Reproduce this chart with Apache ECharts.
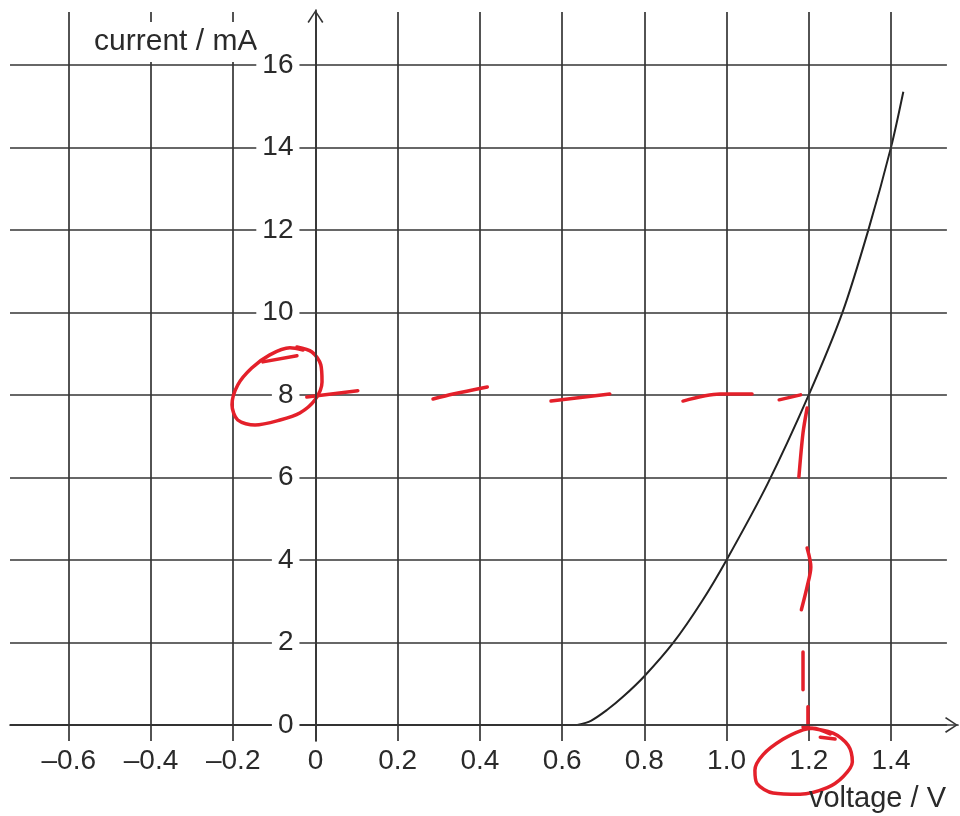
<!DOCTYPE html>
<html><head><meta charset="utf-8">
<script src="https://cdn.jsdelivr.net/npm/echarts@6/dist/echarts.min.js"></script>
<style>html,body{margin:0;padding:0;background:#fff}#c{width:960px;height:816px}</style>
</head><body><div id="c"></div>
<script>
// ---- data ----
const xTicks = [-0.6, -0.4, -0.2, 0, 0.2, 0.4, 0.6, 0.8, 1.0, 1.2, 1.4];
const xLabels = ['–0.6', '–0.4', '–0.2', '0', '0.2', '0.4', '0.6', '0.8', '1.0', '1.2', '1.4'];
const yTicks = [0, 2, 4, 6, 8, 10, 12, 14, 16];
const yLabels = ['0', '2', '4', '6', '8', '10', '12', '14', '16'];
// flat (below threshold) part and rising part of the I-V curve
const flatV = [-0.743, 0.637];
const flatI = [0, 0];
const riseV = [0.637, 0.67, 0.709, 0.748, 0.8, 0.871, 0.939, 1.0, 1.1, 1.2, 1.282, 1.345, 1.4, 1.43];
const riseI = [0, 0.1, 0.36, 0.68, 1.18, 2.0, 2.98, 4.0, 5.85, 8.0, 10.0, 12.0, 14.0, 15.35];
// hand-drawn red annotation strokes (voltage, current)
const redStrokes = [
  [[-0.021, 7.95], [0.103, 8.10]],
  [[0.286, 7.90], [0.335, 8.02], [0.418, 8.19]],
  [[0.573, 7.85], [0.716, 8.02]],
  [[0.894, 7.85], [0.984, 8.02], [1.062, 8.02]],
  [[1.128, 7.88], [1.18, 8.0]],
  [[1.196, 7.68], [1.186, 7.08], [1.176, 6.01]],
  [[1.196, 4.29], [1.205, 3.83], [1.196, 3.35], [1.182, 2.79]],
  [[1.186, 1.77], [1.186, 0.85]],
  [[1.198, 0.44], [1.198, -0.05]]
];
const circle8 = [[-0.045, 9.16], [-0.0085, 9.04], [0.013, 8.73], [0.016, 8.31], [-0.001, 7.88], [-0.038, 7.56],
  [-0.086, 7.39], [-0.147, 7.27], [-0.189, 7.39], [-0.203, 7.76], [-0.189, 8.24], [-0.155, 8.65],
  [-0.111, 8.97], [-0.062, 9.14], [-0.030, 9.09]];
const hook8 = [[-0.128, 8.80], [-0.045, 8.95]];
const circle12 = [[1.186, -0.05], [1.259, -0.20], [1.296, -0.50], [1.306, -0.90], [1.284, -1.25], [1.245, -1.52],
  [1.179, -1.68], [1.113, -1.65], [1.074, -1.42], [1.069, -1.10], [1.089, -0.72], [1.137, -0.35],
  [1.186, -0.12], [1.210, -0.08], [1.252, -0.22]];
const hook12 = [[1.228, -0.30], [1.264, -0.34]];

// ---- axis extents ----
const X_MIN = -0.743, X_MAX = 1.563, X_GRID_END = 1.536;
const Y_MIN = -0.39, Y_MAX = 17.33, Y_GRID_END = 17.28;
const GRID = {left: 10, right: 2, top: 10, bottom: 75};

const FONT = "'Liberation Sans', Arial, sans-serif";
const TXT = '#2a2a2a';
const GRIDC = '#353535';
const RED = '#e4202a';
const arrowPath = 'path://M0 12 L8 0 L16 12 L14.6 13 L8 2.6 L1.4 13 Z';

const gridLines = [];
xTicks.forEach(v => gridLines.push([{coord: [v, Y_MIN]}, {coord: [v, Y_GRID_END]}]));
yTicks.forEach(v => gridLines.push([{coord: [X_MIN, v]}, {coord: [X_GRID_END, v]}]));

function lbl(ticks, labels) {
  return v => { const i = ticks.findIndex(t => Math.abs(t - v) < 1e-6); return i >= 0 ? labels[i] : ''; };
}

const redSeries = redStrokes.concat([circle8, hook8, circle12, hook12]).map(s => ({
  type: 'line', data: s, showSymbol: false, clip: false, smooth: 0.3, silent: true, z: 6,
  lineStyle: {color: RED, width: 3.5, cap: 'round', join: 'round'}
}));

const chart = echarts.init(document.getElementById('c'), null, {renderer: 'canvas'});
chart.setOption({
  animation: false,
  backgroundColor: '#fff',
  grid: Object.assign({containLabel: false, outerBoundsMode: 'none'}, GRID),
  xAxis: {
    type: 'value', min: X_MIN, max: X_MAX, z: 10,
    axisLine: {onZero: true, lineStyle: {color: GRIDC, width: 1.7}, symbol: ['none', arrowPath],
      symbolSize: [16, 13], symbolOffset: [0, -6.5]},
    axisTick: {show: false},
    splitLine: {show: false},
    axisLabel: {customValues: xTicks, formatter: lbl(xTicks, xLabels), margin: 6, hideOverlap: false,
      fontFamily: FONT, fontSize: 28, color: TXT},
    name: 'voltage / V', nameLocation: 'end', nameGap: 0, nameMoveOverlap: false,
    nameTextStyle: {fontFamily: FONT, fontSize: 29, color: TXT, align: 'right', verticalAlign: 'top', padding: [60, 12, 0, 0]}
  },
  yAxis: {
    type: 'value', min: Y_MIN, max: Y_MAX, z: 10,
    axisLine: {onZero: true, lineStyle: {color: GRIDC, width: 1.7}, symbol: ['none', arrowPath],
      symbolSize: [16, 13], symbolOffset: [0, -6.5]},
    axisTick: {show: false},
    splitLine: {show: false},
    axisLabel: {customValues: yTicks, formatter: lbl(yTicks, yLabels), margin: 16, hideOverlap: false,
      fontFamily: FONT, fontSize: 28, color: TXT, backgroundColor: '#fff', padding: [2, 6, 2, 6]},
    name: '{a|current / mA}{s|}', nameLocation: 'end', nameGap: -32, nameMoveOverlap: false,
    nameTextStyle: {align: 'right', verticalAlign: 'middle',
      rich: {a: {fontFamily: FONT, fontSize: 30, color: TXT, backgroundColor: '#fff', padding: [5, 4, 5, 4]},
             s: {width: 54}}}
  },
  series: [
    {type: 'line', data: [], silent: true, z: 2,
     markLine: {silent: true, symbol: 'none', label: {show: false}, animation: false,
       lineStyle: {color: GRIDC, width: 1.7, type: 'solid'}, emphasis: {disabled: true}, data: gridLines}},
    {type: 'line', data: flatV.map((v, i) => [v, flatI[i]]), showSymbol: false,
     silent: true, z: 4, lineStyle: {color: '#222', width: 2}},
    {type: 'line', data: riseV.map((v, i) => [v, riseI[i]]), showSymbol: false, smooth: 0.3,
     silent: true, z: 4, lineStyle: {color: '#222', width: 2}}
  ].concat(redSeries)
});
// move the y-axis labels next to the zero line (through the x scale)
const zeroPx = chart.convertToPixel({xAxisIndex: 0}, 0);
chart.setOption({yAxis: {offset: -(zeroPx - GRID.left)}});
</script></body></html>
